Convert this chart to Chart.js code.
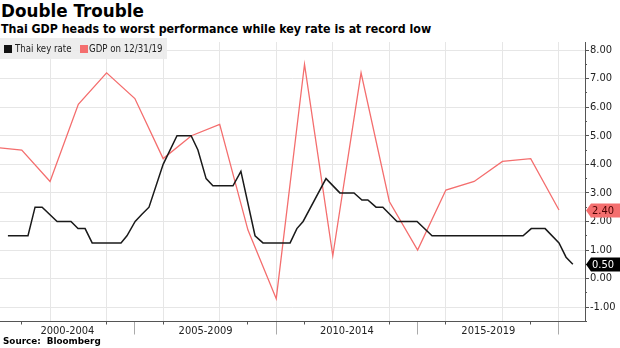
<!DOCTYPE html>
<html><head><meta charset="utf-8">
<script src="https://cdn.jsdelivr.net/npm/chart.js@4/dist/chart.umd.min.js"></script>
<style>
html,body{margin:0;padding:0;background:#fff;}
#wrap{position:relative;width:620px;height:348px;overflow:hidden;font-family:"DejaVu Sans",sans-serif;}
#c{position:absolute;left:0;top:0;}
.t{position:absolute;left:1px;white-space:nowrap;color:#000;font-weight:bold;line-height:1;}
#title{top:3px;font-size:16.8px;}
#sub{top:23px;font-size:12.3px;font-family:"DejaVu Sans Condensed","DejaVu Sans",sans-serif;}
#src{top:337px;font-size:8.8px;left:3px;}
#legend{position:absolute;left:0;top:38px;width:167px;height:21px;background:rgba(236,236,236,0.92);font-family:"DejaVu Sans Condensed","DejaVu Sans",sans-serif;font-size:9.6px;color:#222;}
#legend span.sq{position:absolute;top:7px;width:8px;height:8px;}
#legend span.lb{position:absolute;top:5.5px;line-height:1;}
</style></head>
<body><div id="wrap">
<div class="t" id="title">Double Trouble</div>
<div class="t" id="sub">Thai GDP heads to worst performance while key rate is at record low</div>
<canvas id="c" width="620" height="348"></canvas>
<div id="legend">
 <span class="sq" style="left:4px;background:#111"></span><span class="lb" style="left:15px">Thai key rate</span>
 <span class="sq" style="left:80px;background:#f46e6e"></span><span class="lb" style="left:89px">GDP on 12/31/19</span>
</div>
<div class="t" id="src">Source:&nbsp; Bloomberg</div>
</div>
<script>
// ---- data ----
const gdpYears = [1999,2000,2001,2002,2003,2004,2005,2006,2007,2008,2009,2010,2011,2012,2013,2014,2015,2016,2017,2018,2019];
const gdpValues = [4.6,4.5,3.4,6.1,7.2,6.3,4.2,5.0,5.4,1.7,-0.7,7.5,0.8,7.2,2.7,1.0,3.1,3.4,4.1,4.2,2.4];
// key rate: dates as decimal years
const rateDates = [2000.51,2001.22,2001.47,2001.72,2002.25,2002.74,2002.99,2003.24,2003.49,2004.51,2004.72,2005.01,2005.25,2005.50,2006.00,2006.49,2006.99,2007.23,2007.52,2007.76,2008.47,2008.75,2009.25,2009.53,2010.49,2010.73,2010.95,2011.76,2012.25,2012.75,2013.03,2013.24,2013.53,2013.77,2014.27,2014.98,2015.51,2018.73,2019.02,2019.51,2020.00,2020.25,2020.49];
const rateValues = [1.5,1.5,2.5,2.5,2.0,2.0,1.75,1.75,1.25,1.25,1.5,2.0,2.25,2.5,4.0,5.0,5.0,4.5,3.5,3.25,3.25,3.75,1.5,1.25,1.25,1.75,2.0,3.5,3.0,3.0,2.75,2.75,2.5,2.5,2.0,2.0,1.5,1.5,1.75,1.75,1.25,0.75,0.5];
const periodLabels = ["2000-2004","2005-2009","2010-2014","2015-2019"];
const periodStarts = [2000,2005,2010,2015];
const periodEnds = [2005,2010,2015,2020];
const yTicks = [-1,0,1,2,3,4,5,6,7,8];
const yMinorTicks = [-1.5,-0.5,0.5,1.5,2.5,3.5,4.5,5.5,6.5,7.5];
const gridYears = [2002,2004,2006,2008,2010,2012,2014,2016,2018,2020];
const minorTickYears = [2001,2004,2006,2009,2011,2014,2016,2019];

const X_MIN = 2000.23, X_MAX = 2020.92, Y_MIN = -1.5, Y_MAX = 8.28;
const RED = '#f46e6e', BLACK = '#1a1a1a';
const COND = '"DejaVu Sans Condensed","DejaVu Sans",sans-serif';

const labelTicks = [];
periodLabels.forEach((l,i)=>{
  const s = Math.max(periodStarts[i], X_MIN), e = Math.min(periodEnds[i], X_MAX);
  labelTicks.push({value:(s+e)/2, label:l});
});
const boundaryTicks = periodEnds.map(v=>({value:v, label:''}));
const allLabelTicks = labelTicks.concat(boundaryTicks).sort((a,b)=>a.value-b.value);

const badgePlugin = {
  id:'badges',
  afterDraw(chart){
    const ctx = chart.ctx, ys = chart.scales.y;
    const defs = [{ds:1, fill:RED, text:'#4a0000'},{ds:0, fill:'#000', text:'#fff'}];
    defs.forEach(d=>{
      const data = chart.data.datasets[d.ds].data;
      const v = data[data.length-1].y;
      const py = Math.round(ys.getPixelForValue(v)) + 0.5;
      const x0 = chart.chartArea.right + 1, h = 14;
      ctx.save();
      ctx.fillStyle = d.fill;
      ctx.beginPath();
      ctx.moveTo(x0, py);
      ctx.lineTo(x0+5, py-h/2);
      ctx.lineTo(620, py-h/2);
      ctx.lineTo(620, py+h/2);
      ctx.lineTo(x0+5, py+h/2);
      ctx.closePath();
      ctx.fill();
      ctx.fillStyle = d.text;
      ctx.font = '11px ' + COND;
      ctx.textBaseline = 'middle';
      ctx.textAlign = 'left';
      ctx.fillText(v.toFixed(2), x0+6, py+0.5);
      ctx.restore();
    });
  }
};

new Chart(document.getElementById('c'), {
  type:'line',
  data:{datasets:[
    {label:'Thai key rate', data:rateDates.map((d,i)=>({x:d,y:rateValues[i]})), borderColor:BLACK, borderWidth:1.5, pointRadius:0, tension:0, xAxisID:'x', yAxisID:'y'},
    {label:'GDP on 12/31/19', data:gdpYears.map((yr,i)=>({x:yr+1,y:gdpValues[i]})), borderColor:RED, borderWidth:1.3, pointRadius:0, tension:0, xAxisID:'x', yAxisID:'y'}
  ]},
  options:{
    responsive:false, animation:false, events:[],
    layout:{padding:{top:42,left:0,right:0,bottom:0}},
    plugins:{legend:{display:false}, tooltip:{enabled:false}, title:{display:false}},
    scales:{
      x:{type:'linear', position:'bottom', min:X_MIN, max:X_MAX, weight:0,
         afterBuildTicks(s){ s.ticks = gridYears.map(v=>({value:v})); },
         afterFit(s){ s.height = 0; },
         grid:{color:'#e6e6e6', lineWidth:1, drawTicks:false},
         border:{display:false}, ticks:{display:false}},
      xm:{type:'linear', position:'bottom', min:X_MIN, max:X_MAX, weight:0,
         afterBuildTicks(s){ s.ticks = minorTickYears.map(v=>({value:v})); },
         afterFit(s){ s.height = 0; },
         grid:{drawOnChartArea:false, drawTicks:true, tickLength:3, tickColor:'#555'},
         border:{display:false}, ticks:{display:false}},
      xl:{type:'linear', position:'bottom', min:X_MIN, max:X_MAX, weight:1,
         afterBuildTicks(s){ s.ticks = allLabelTicks.map(t=>({value:t.value})); },
         afterFit(s){ s.height = 26.5; },
         grid:{drawOnChartArea:false, drawTicks:true, tickLength:13,
           tickColor:(c)=>{ const t = allLabelTicks[c.index]; return t && t.label==='' ? '#aaa' : 'rgba(0,0,0,0)'; }},
         border:{display:true, color:'#555', width:1},
         ticks:{autoSkip:false, maxRotation:0, padding:-10, color:'#222', font:{family:COND, size:11},
           callback:(v,i)=>allLabelTicks[i].label}},
      ym:{type:'linear', position:'right', min:Y_MIN, max:Y_MAX, weight:0,
         afterBuildTicks(s){ s.ticks = yMinorTicks.map(v=>({value:v})); },
         afterFit(s){ s.width = 0; },
         grid:{drawOnChartArea:false, drawTicks:true, tickLength:2, tickColor:'#555'},
         border:{display:false}, ticks:{display:false}},
      y:{type:'linear', position:'right', min:Y_MIN, max:Y_MAX, weight:1,
         afterBuildTicks(s){ s.ticks = yTicks.map(v=>({value:v})); },
         afterFit(s){ s.width = 35; },
         grid:{color:'#e6e6e6', drawTicks:true, tickLength:4, tickColor:'#555'},
         border:{display:true, color:'#555', width:1},
         ticks:{padding:1, color:'#222', font:{family:COND, size:11}, callback:(v)=>v.toFixed(2)}}
    }
  },
  plugins:[badgePlugin]
});
</script>
</body></html>
